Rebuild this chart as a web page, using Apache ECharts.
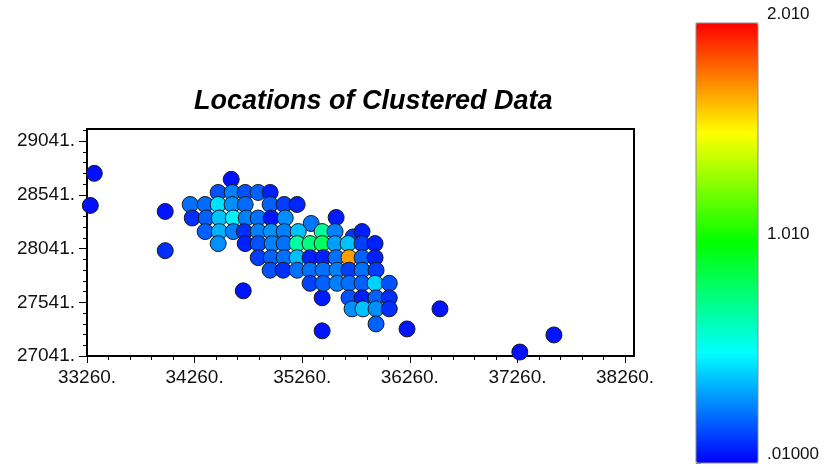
<!DOCTYPE html>
<html>
<head>
<meta charset="utf-8">
<script src="https://cdn.jsdelivr.net/npm/echarts@6/dist/echarts.min.js"></script>
<style>
  html, body { margin: 0; padding: 0; background: #fff; }
  #chart { width: 828px; height: 470px; }
</style>
</head>
<body>
<div id="chart"></div>
<script>
// Sample locations (easting, northing) and the measured value at each.
const eastings = [
  35733,
  33328, 33291, 33987, 33987, 34712, 34600, 35445, 35445, 36234, 36540, 37282, 37599, 35575, 35816,
  34479, 34609, 34730, 34851, 34962,
  34219, 34358, 34479, 34609, 34730, 34962, 35092, 35213,
  34238, 34368, 34489, 34619, 34740, 34851, 34972, 35102,
  35343,
  34358, 34489, 34619, 34721, 34851, 34972, 35092, 35223, 35445, 35565,
  34479, 34730, 34851, 34981, 35092, 35213, 35333, 35445, 35565, 35686, 35816, 35937,
  34851, 34972, 35092, 35213, 35333, 35455, 35575, 35695, 35816, 35937,
  34962, 35083, 35213, 35333, 35455, 35584, 35695, 35816, 35946,
  35333, 35455, 35584, 35695, 35816, 35937, 36069,
  35695, 35816, 35946, 36069,
  35723, 35825, 35946, 36069,
  35946
];
const northings = [
  28150,
  28742, 28443, 28387, 28022, 27648, 28686, 27583, 27275, 27293, 27480, 27078, 27237, 28331, 28200,
  28564, 28564, 28564, 28564, 28564,
  28452, 28452, 28452, 28452, 28452, 28452, 28452, 28452,
  28326, 28326, 28326, 28326, 28326, 28326, 28326, 28326,
  28275,
  28200, 28200, 28200, 28200, 28200, 28200, 28200, 28200, 28200, 28200,
  28088, 28088, 28088, 28088, 28088, 28088, 28088, 28088, 28088, 28088, 28088, 28088,
  27957, 27957, 27957, 27957, 27957, 27957, 27957, 27957, 27957, 27957,
  27840, 27840, 27840, 27840, 27840, 27840, 27840, 27840, 27840,
  27718, 27718, 27718, 27718, 27718, 27718, 27718,
  27583, 27583, 27583, 27583,
  27480, 27480, 27480, 27480,
  27340
];
const values = [
  0.12,
  0.04, 0.04, 0.05, 0.10, 0.05, 0.04, 0.06, 0.05, 0.05, 0.05, 0.04, 0.05, 0.06, 0.07,
  0.17, 0.26, 0.17, 0.20, 0.07,
  0.23, 0.22, 0.45, 0.29, 0.22, 0.20, 0.13, 0.08,
  0.10, 0.20, 0.39, 0.48, 0.26, 0.23, 0.05, 0.29,
  0.24,
  0.20, 0.36, 0.26, 0.10, 0.26, 0.29, 0.26, 0.39, 0.70, 0.26,
  0.29, 0.07, 0.17, 0.26, 0.23, 0.70, 0.76, 0.82, 0.32, 0.39, 0.13, 0.07,
  0.13, 0.20, 0.23, 0.38, 0.07, 0.07, 0.23, 1.70, 0.20, 0.07,
  0.17, 0.10, 0.23, 0.23, 0.23, 0.26, 0.13, 0.23, 0.13,
  0.14, 0.20, 0.26, 0.23, 0.20, 0.42, 0.17,
  0.17, 0.07, 0.20, 0.10,
  0.29, 0.39, 0.29, 0.10,
  0.20
];

// Axis ticks
const xTicks = [33260, 34260, 35260, 36260, 37260, 38260];
const yTicks = [27041, 27541, 28041, 28541, 29041];
const xRange = [33260, 38343];
const yRange = [27041, 29155];
const xMinorStep = 200;
const yMinorStep = 100;

// Colour scale
const colorMin = 0.01;
const colorMax = 2.01;
const colorTicks = [0.01, 1.01, 2.01];
const colorTickLabels = ['.01000', '1.010', '2.010'];
const rainbow = ['#0000ff', '#00ffff', '#00ff00', '#ffff00', '#ff0000'];

const FONT = '"Liberation Sans", Arial, Helvetica, sans-serif';

function minorTicks(start, end, step) {
  const out = [];
  for (let v = start; v <= end; v += step) out.push(v);
  return out;
}
const xMinor = minorTicks(xTicks[0], xRange[1], xMinorStep);
const yMinor = minorTicks(yTicks[0], yRange[1], yMinorStep);

const points = eastings.map((x, i) => [x, northings[i], values[i]]);

const chart = echarts.init(document.getElementById('chart'), null, { renderer: 'canvas' });

const axisText = { fontFamily: FONT, fontSize: 19, color: '#111' };

chart.setOption({
  animation: false,
  backgroundColor: '#ffffff',
  title: {
    text: 'Locations of Clustered Data',
    left: 189,
    top: 83,
    textStyle: {
      fontFamily: FONT, fontSize: 27, fontWeight: 'bold', fontStyle: 'italic', color: '#000'
    }
  },
  grid: [
    {
      left: 87, top: 129, width: 547, height: 227,
      show: true, borderColor: '#000', borderWidth: 2, backgroundColor: 'transparent'
    },
    {
      left: 696, top: 23, width: 62, height: 440, z: 10,
      show: true, borderColor: '#8c8c8c', borderWidth: 1, backgroundColor: 'transparent'
    }
  ],
  xAxis: [
    {
      type: 'value', gridIndex: 0, min: xRange[0], max: xRange[1], position: 'bottom',
      axisLine: { show: true, lineStyle: { color: '#000', width: 2 } },
      splitLine: { show: false },
      axisTick: { show: true, customValues: xTicks, length: 7, lineStyle: { color: '#000', width: 1 } },
      axisLabel: Object.assign({ customValues: xTicks, margin: 12, formatter: v => v + '.' }, axisText)
    },
    {
      type: 'value', gridIndex: 0, min: xRange[0], max: xRange[1], position: 'bottom',
      axisLine: { show: false },
      splitLine: { show: false },
      axisTick: { show: true, customValues: xMinor, length: 4, lineStyle: { color: '#000', width: 1 } },
      axisLabel: { show: false }
    },
    { type: 'value', gridIndex: 1, min: 0, max: 1, show: false }
  ],
  yAxis: [
    {
      type: 'value', gridIndex: 0, min: yRange[0], max: yRange[1], position: 'left',
      axisLine: { show: true, lineStyle: { color: '#000', width: 2 } },
      splitLine: { show: false },
      axisTick: { show: true, customValues: yTicks, length: 8, lineStyle: { color: '#000', width: 1 } },
      axisLabel: Object.assign({ customValues: yTicks, margin: 12, formatter: v => v + '.' }, axisText)
    },
    {
      type: 'value', gridIndex: 0, min: yRange[0], max: yRange[1], position: 'left',
      axisLine: { show: false },
      splitLine: { show: false },
      axisTick: { show: true, customValues: yMinor, length: 4, lineStyle: { color: '#000', width: 1 } },
      axisLabel: { show: false }
    },
    {
      type: 'value', gridIndex: 1, min: colorMin, max: colorMax, position: 'right',
      axisLine: { show: false },
      splitLine: { show: false },
      axisTick: { show: true, customValues: colorTicks, length: 5, lineStyle: { color: '#888', width: 1 } },
      axisLabel: {
        customValues: colorTicks, margin: 9, verticalAlign: 'bottom',
        fontFamily: FONT, fontSize: 17, color: '#111',
        formatter: v => colorTickLabels[colorTicks.findIndex(t => Math.abs(t - v) < 1e-6)]
      }
    }
  ],
  visualMap: {
    type: 'continuous',
    min: colorMin, max: colorMax,
    seriesIndex: 0, dimension: 2,
    left: 696, top: 23, padding: 0,
    itemWidth: 62, itemHeight: 440,
    calculable: false, hoverLink: false,
    inRange: { color: rainbow }
  },
  series: [
    {
      type: 'scatter',
      xAxisIndex: 0, yAxisIndex: 0,
      data: points,
      symbol: 'circle',
      symbolSize: 16,
      clip: false,
      z: 5,
      itemStyle: { borderColor: '#1a1a1a', borderWidth: 1, opacity: 1 },
      emphasis: { disabled: true }
    }
  ]
});
</script>
</body>
</html>
